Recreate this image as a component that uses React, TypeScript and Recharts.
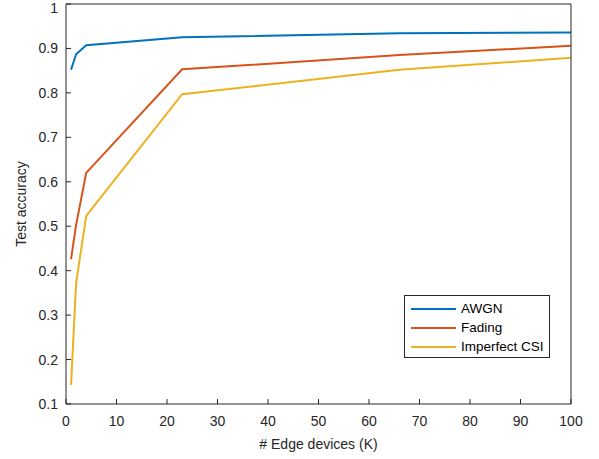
import { LineChart, Line, XAxis, YAxis } from 'recharts';

const devices = [1, 2, 4, 23, 66, 100];
const awgn = [0.852, 0.887, 0.907, 0.925, 0.934, 0.936];
const fading = [0.426, 0.503, 0.62, 0.853, 0.885, 0.906];
const imperfect = [0.143, 0.372, 0.523, 0.797, 0.852, 0.879];

const xTicks = [0, 10, 20, 30, 40, 50, 60, 70, 80, 90, 100];
const yTicks = [0.1, 0.2, 0.3, 0.4, 0.5, 0.6, 0.7, 0.8, 0.9, 1];

const series = [
  { key: 'awgn', name: 'AWGN', color: '#0072BD' },
  { key: 'fading', name: 'Fading', color: '#D95319' },
  { key: 'imperfect', name: 'Imperfect CSI', color: '#EDB120' },
];

const data = devices.map((k, i) => ({
  k,
  awgn: awgn[i],
  fading: fading[i],
  imperfect: imperfect[i],
}));

const font = '"Liberation Sans", Arial, Helvetica, sans-serif';
const axisColor = '#262626';

const LegendBox = () => (
  <div
    style={{
      position: 'absolute',
      left: 404,
      top: 295,
      width: 146,
      height: 63,
      border: '1px solid #262626',
      background: '#fff',
      boxSizing: 'border-box',
      fontFamily: font,
      fontSize: 13.5,
      color: '#000',
      paddingTop: 3,
    }}
  >
    {series.map((s) => (
      <div key={s.key} style={{ display: 'flex', alignItems: 'center', height: 19 }}>
        <div style={{ width: 45, height: 2, background: s.color, marginLeft: 6, marginRight: 5 }} />
        <span>{s.name}</span>
      </div>
    ))}
  </div>
);

export default function App() {
  return (
    <div style={{ position: 'absolute', left: 0, top: 0, width: 599, height: 459, background: '#fff' }}>
      <LineChart width={599} height={459} data={data} margin={{ top: 3, right: 27, left: 0, bottom: 0 }}>
        <XAxis
          dataKey="k"
          type="number"
          domain={[0, 100]}
          ticks={xTicks}
          tickSize={-5}
          tickMargin={17}
          height={55}
          stroke={axisColor}
          tick={{ fill: axisColor, fontSize: 14, fontFamily: font }}
          label={{ value: '# Edge devices (K)', position: 'insideBottom', offset: 10, fill: axisColor, fontSize: 14, fontFamily: font }}
        />
        <XAxis
          xAxisId="top"
          dataKey="k"
          type="number"
          orientation="top"
          domain={[0, 100]}
          ticks={xTicks}
          tickSize={-5}
          tick={false}
          height={1}
          stroke={axisColor}
        />
        <YAxis
          type="number"
          domain={[0.1, 1]}
          ticks={yTicks}
          tickSize={-5}
          tickMargin={13}
          width={66}
          stroke={axisColor}
          tick={{ fill: axisColor, fontSize: 14, fontFamily: font }}
          label={{ value: 'Test accuracy', angle: -90, position: 'insideLeft', offset: 21, fill: axisColor, fontSize: 14, fontFamily: font, style: { textAnchor: 'middle' } }}
        />
        <YAxis
          yAxisId="right"
          type="number"
          orientation="right"
          domain={[0.1, 1]}
          ticks={yTicks}
          tickSize={-5}
          tick={false}
          width={1}
          stroke={axisColor}
        />
        {series.map((s) => (
          <Line
            key={s.key}
            dataKey={s.key}
            name={s.name}
            stroke={s.color}
            strokeWidth={2}
            dot={false}
            type="linear"
            isAnimationActive={false}
          />
        ))}
      </LineChart>
      <LegendBox />
    </div>
  );
}
